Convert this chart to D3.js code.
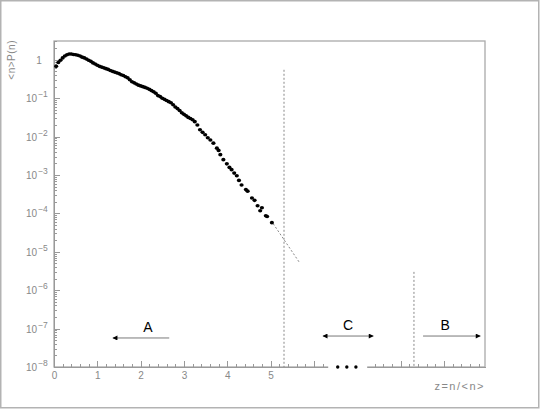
<!DOCTYPE html>
<html>
<head>
    <meta charset="utf-8">
    <title>Scaled multiplicity distribution</title>
    <script type="text/javascript" src="https://cdn.jsdelivr.net/npm/d3@7/dist/d3.min.js"></script>
    <style type="text/css">
        body {
            margin: 0;
            background: #fff;
        }

        text {
            font-family: "Liberation Sans", Arial, sans-serif;
        }

        .axis path, .axis line {
            stroke: #999;
            shape-rendering: crispEdges;
        }

        .axis text {
            fill: #888;
            font-size: 10px;
        }
    </style>
</head>

<body>

<script type="text/javascript">
    // z = n/<n> and <n>P(n)
    var zValues = [0.05, 0.10, 0.15, 0.20, 0.25, 0.30, 0.35, 0.40, 0.45, 0.50,
        0.55, 0.60, 0.65, 0.70, 0.75, 0.80, 0.85, 0.90, 0.95, 1.00,
        1.05, 1.10, 1.15, 1.20, 1.25, 1.30, 1.35, 1.40, 1.45, 1.50,
        1.55, 1.60, 1.65, 1.70, 1.75, 1.80, 1.85, 1.90, 1.95, 2.00,
        2.05, 2.10, 2.15, 2.20, 2.25, 2.30, 2.35, 2.40, 2.45, 2.50,
        2.55, 2.60, 2.65, 2.70, 2.75, 2.80, 2.85, 2.90, 2.95, 3.00,
        3.05, 3.10, 3.15, 3.20, 3.25, 3.31, 3.37, 3.43, 3.49, 3.55,
        3.61, 3.68, 3.76, 3.80, 3.84, 3.91, 3.99, 4.05, 4.10, 4.16,
        4.22, 4.27, 4.33, 4.43, 4.47, 4.57, 4.63, 4.70, 4.76, 4.80,
        4.89, 4.92, 5.03];

    var pValues = [0.676, 0.851, 0.977, 1.122, 1.259, 1.349, 1.413, 1.413, 1.380, 1.349,
        1.318, 1.259, 1.175, 1.122, 1.047, 0.977, 0.912, 0.832, 0.776, 0.724,
        0.676, 0.646, 0.617, 0.589, 0.562, 0.525, 0.501, 0.479, 0.457, 0.437,
        0.407, 0.389, 0.363, 0.339, 0.302, 0.269, 0.251, 0.234, 0.219, 0.209,
        0.200, 0.191, 0.182, 0.170, 0.158, 0.148, 0.135, 0.117, 0.110, 0.100,
        0.0933, 0.0871, 0.0813, 0.0759, 0.0676, 0.0589, 0.0537, 0.0479, 0.0417, 0.0380,
        0.0347, 0.0316, 0.0295, 0.0275, 0.0245, 0.0200, 0.0151, 0.0129, 0.0112, 0.00933,
        0.00813, 0.00676, 0.00501, 0.00437, 0.00339, 0.00251, 0.00195, 0.00158, 0.00138, 0.00112,
        0.000955, 0.000724, 0.000550, 0.000417, 0.000380, 0.000251, 0.000219, 0.000158, 0.000117, 0.000141,
        0.0000871, 0.0000832, 0.0000575];

    // extrapolated tail (dashed), region borders and axis break
    var fitZ = [5.06, 5.66];
    var fitP = [0.0000540, 0.0000054];
    var borderZ = [5.31, 8.31];
    var borderTop = [0.55, 0.0000030];
    var breakZ = [6.33, 7.23];
    var breakDots = [6.55, 6.76, 6.97];

    // region arrows: [label, from z, to z, level, label z, heads]
    var regions = [
        ["A", 2.66, 1.36, 5.7e-8, 2.17, "end"],
        ["C", 6.21, 7.37, 6.4e-8, 6.79, "both"],
        ["B", 8.52, 9.84, 6.4e-8, 9.03, "end"]
    ];

    var xMajor = [0, 1, 2, 3, 4, 5, 6, 7, 8, 9];
    var xLabels = ["0", "1", "2", "3", "4", "5"];
    var yDecades = [-8, -7, -6, -5, -4, -3, -2, -1, 0];

    var w = 540, h = 409,
        padL = 54, padR = 485, padT = 41, padB = 367;

    var x = d3.scaleLinear().domain([0, 9.95]).range([padL, padR]),
        y = d3.scaleLog().domain([1e-8, Math.pow(10, 0.49)]).range([padB, padT]);

    var svg = d3.select("body")
        .append("svg")
            .attr("width", w)
            .attr("height", h);

    svg.append("rect")
        .attr("x", 0.75).attr("y", 0.75)
        .attr("width", w - 2).attr("height", h - 2)
        .attr("fill", "none")
        .attr("stroke", "#b3b3b3")
        .attr("stroke-width", 1.5);

    svg.append("rect")
        .attr("x", padL).attr("y", padT)
        .attr("width", padR - padL).attr("height", padB - padT)
        .attr("fill", "none")
        .attr("stroke", "#aaa")
        .attr("stroke-width", 1.3);

    // x axis: minor every 0.2, majors every 1
    var xMinor = d3.range(0, 9.95, 0.2);
    svg.append("g")
        .attr("class", "axis")
        .attr("transform", "translate(0," + padB + ")")
        .call(d3.axisBottom(x).tickValues(xMinor).tickSize(-3).tickSizeOuter(0).tickFormat(""));

    var xAxis = svg.append("g")
        .attr("class", "axis")
        .attr("transform", "translate(0," + padB + ")")
        .call(d3.axisBottom(x).tickValues(xMajor).tickSize(-6).tickSizeOuter(0).tickPadding(5)
            .tickFormat(function (d) { return xLabels[d] || ""; }));
    xAxis.select(".domain").remove();

    // y axis: decades plus 2..9 minors
    var yMinor = [];
    yDecades.forEach(function (e) {
        for (var k = 2; k <= 9; k++) {
            var v = k * Math.pow(10, e);
            if (v <= y.domain()[1]) yMinor.push(v);
        }
    });
    svg.append("g")
        .attr("class", "axis")
        .attr("transform", "translate(" + padL + ",0)")
        .call(d3.axisLeft(y).tickValues(yMinor).tickSize(-3).tickSizeOuter(0).tickFormat(""));

    var yAxis = svg.append("g")
        .attr("class", "axis")
        .attr("transform", "translate(" + padL + ",0)")
        .call(d3.axisLeft(y).tickValues(yDecades.map(function (e) { return Math.pow(10, e); }))
            .tickSize(-6).tickSizeOuter(0).tickFormat(""));

    yAxis.selectAll(".tick").each(function (d) {
        var e = Math.round(Math.log10(d)),
            t = d3.select(this).append("text")
                .attr("x", e === 0 ? -15 : -28)
                .attr("dy", "0.35em")
                .attr("text-anchor", e === 0 ? "middle" : "start");
        if (e === 0) {
            t.text("1");
        } else {
            t.text("10");
            t.append("tspan").attr("dx", "1").attr("dy", "-0.6em").attr("font-size", "8.5px").text("\u2212" + Math.abs(e));
        }
    });

    // axis break
    svg.append("rect")
        .attr("x", x(breakZ[0])).attr("y", padB - 8)
        .attr("width", x(breakZ[1]) - x(breakZ[0])).attr("height", 10)
        .attr("fill", "#fff");
    svg.selectAll("circle.brk")
        .data(breakDots)
        .enter().append("circle")
            .attr("class", "brk")
            .attr("cx", function (d) { return x(d); })
            .attr("cy", padB)
            .attr("r", 1.7)
            .attr("fill", "#000");

    // axis titles
    svg.append("text")
        .attr("transform", "translate(15," + y(1) + ") rotate(-90)")
        .attr("text-anchor", "middle")
        .attr("font-size", 10)
        .attr("letter-spacing", 0.5)
        .attr("fill", "#888")
        .text("<n>P(n)");

    svg.append("text")
        .attr("x", padR)
        .attr("y", 390)
        .attr("text-anchor", "end")
        .attr("font-size", 11)
        .attr("letter-spacing", 1.5)
        .attr("fill", "#888")
        .text("z=n/<n>");

    // dashed guides
    svg.selectAll("line.border")
        .data(borderZ)
        .enter().append("line")
            .attr("class", "border")
            .attr("x1", function (d) { return x(d); })
            .attr("x2", function (d) { return x(d); })
            .attr("y1", function (d, i) { return y(borderTop[i]); })
            .attr("y2", padB)
            .attr("stroke", "#888")
            .attr("stroke-dasharray", "2,2");

    svg.append("line")
        .attr("x1", x(fitZ[0])).attr("y1", y(fitP[0]))
        .attr("x2", x(fitZ[1])).attr("y2", y(fitP[1]))
        .attr("stroke", "#888")
        .attr("stroke-dasharray", "2,2");

    // region arrows
    var defs = svg.append("defs");
    defs.append("marker")
        .attr("id", "head")
        .attr("viewBox", "0 0 10 10")
        .attr("refX", 9).attr("refY", 5)
        .attr("markerWidth", 7).attr("markerHeight", 5)
        .attr("markerUnits", "userSpaceOnUse")
        .attr("orient", "auto-start-reverse")
        .append("path")
            .attr("d", "M0,0L10,5L0,10z")
            .attr("fill", "#000");

    var reg = svg.selectAll("g.region")
        .data(regions)
        .enter().append("g")
            .attr("class", "region");

    reg.append("line")
        .attr("x1", function (d) { return x(d[1]); })
        .attr("x2", function (d) { return x(d[2]); })
        .attr("y1", function (d) { return y(d[3]); })
        .attr("y2", function (d) { return y(d[3]); })
        .attr("stroke", "#555")
        .attr("stroke-width", 0.8)
        .attr("marker-end", "url(#head)")
        .attr("marker-start", function (d) { return d[5] === "both" ? "url(#head)" : null; });

    reg.append("text")
        .attr("x", function (d) { return x(d[4]); })
        .attr("y", function (d) { return y(d[3]) - 6; })
        .attr("text-anchor", "middle")
        .attr("font-size", 14)
        .attr("fill", "#000")
        .text(function (d) { return d[0]; });

    // data points
    svg.selectAll("ellipse.pt")
        .data(zValues)
        .enter().append("ellipse")
            .attr("class", "pt")
            .attr("cx", function (d) { return x(d); })
            .attr("cy", function (d, i) { return y(pValues[i]); })
            .attr("rx", 2.1)
            .attr("ry", 1.8)
            .attr("fill", "#000");
</script>

</body>

</html>
